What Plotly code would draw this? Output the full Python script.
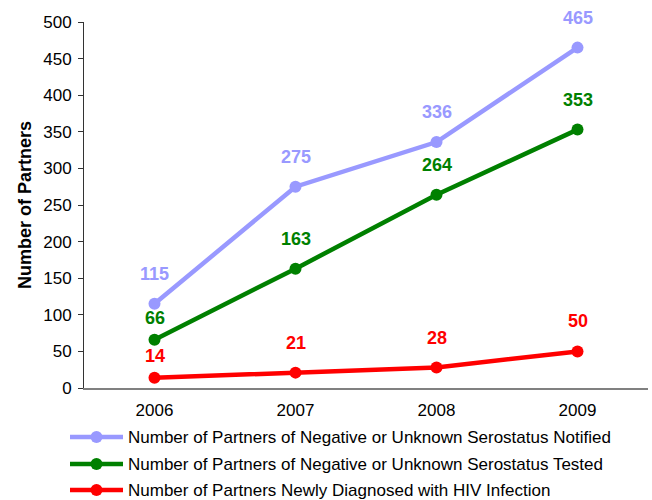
"""Partner services chart: partners notified, tested and newly diagnosed, 2006-2009."""

import plotly.graph_objects as go

years = ["2006", "2007", "2008", "2009"]
notified = [115, 275, 336, 465]
tested = [66, 163, 264, 353]
diagnosed = [14, 21, 28, 50]

series_names = [
    "Number of Partners of Negative or Unknown Serostatus Notified",
    "Number of Partners of Negative or Unknown Serostatus Tested",
    "Number of Partners Newly Diagnosed with HIV Infection",
]
series_colors = ["#9999FF", "#008000", "#FF0000"]

WIDTH, HEIGHT = 652, 500
MARGIN = {"l": 84, "r": 4, "t": 22, "b": 112}
FONT = "Liberation Sans, Arial, sans-serif"


def px_to_paper(px_x, px_y):
    """Convert page pixels to paper coordinates (used for the hand-drawn legend)."""
    plot_w = WIDTH - MARGIN["l"] - MARGIN["r"]
    plot_h = HEIGHT - MARGIN["t"] - MARGIN["b"]
    return (px_x - MARGIN["l"]) / plot_w, (HEIGHT - MARGIN["b"] - px_y) / plot_h


fig = go.Figure()
all_values = [notified, tested, diagnosed]
for s, (name, values, color) in enumerate(zip(series_names, all_values, series_colors)):
    fig.add_trace(
        go.Scatter(
            x=list(range(len(years))),
            y=values,
            mode="lines+markers",
            name=name,
            showlegend=False,
            line={"color": color, "width": 4.5},
            marker={"color": color, "size": 12},
        )
    )
    for i, value in enumerate(values):
        # the 2006 labels of the lower series sit closer to their point
        shift = 22 if (i == 0 and s > 0) else 30
        fig.add_annotation(
            x=i,
            y=value,
            text=f"<b>{value}</b>",
            showarrow=False,
            yshift=shift,
            font={"color": color, "size": 18, "family": FONT},
        )

# legend below the plot, with long line symbols like the original
legend_rows_y = [437, 464, 490]
for name, color, row_y in zip(series_names, series_colors, legend_rows_y):
    x0, y0 = px_to_paper(70, row_y)
    x1, _ = px_to_paper(123, row_y)
    fig.add_shape(
        type="line", xref="paper", yref="paper",
        x0=x0, x1=x1, y0=y0, y1=y0,
        line={"color": color, "width": 4.5},
    )
    cx0, cy0 = px_to_paper(96.5 - 6, row_y - 6)
    cx1, cy1 = px_to_paper(96.5 + 6, row_y + 6)
    fig.add_shape(
        type="circle", xref="paper", yref="paper",
        x0=cx0, x1=cx1, y0=cy1, y1=cy0,
        fillcolor=color, line={"color": color, "width": 0},
    )
    tx, _ = px_to_paper(126, row_y)
    fig.add_annotation(
        x=tx, y=y0, xref="paper", yref="paper",
        text=name, showarrow=False,
        xanchor="left", yanchor="middle",
        font={"size": 17, "family": FONT, "color": "#000000"},
    )

fig.update_layout(
    width=WIDTH,
    height=HEIGHT,
    margin=MARGIN,
    plot_bgcolor="white",
    paper_bgcolor="white",
    font={"family": FONT, "size": 17, "color": "#000000"},
    showlegend=False,
)
fig.update_xaxes(
    tickmode="array",
    tickvals=list(range(len(years))),
    ticktext=years,
    range=[-0.5, 3.5],
    showgrid=False,
    showline=True,
    linecolor="#808080",
    linewidth=2,
    ticks="",
    ticklabelstandoff=6,
    tickfont={"size": 17},
    zeroline=False,
    automargin=False,
)
fig.update_yaxes(
    range=[0, 500],
    dtick=50,
    showgrid=False,
    showline=True,
    linecolor="#333333",
    linewidth=1,
    ticks="outside",
    ticklen=5,
    tickcolor="#333333",
    ticklabelstandoff=3,
    tickfont={"size": 17},
    zeroline=False,
    automargin=False,
    title={"text": "<b>Number of Partners</b>", "font": {"size": 18}, "standoff": 6},
)

# drop the default 8px body margin so the figure sits at the page corner
fig.write_html(
    "out.html",
    config={"displayModeBar": False},
    post_script="document.body.style.margin='0';",
)
